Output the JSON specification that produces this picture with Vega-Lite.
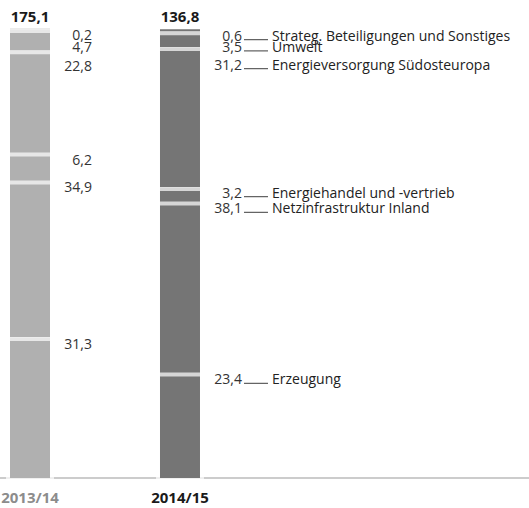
{
  "$schema": "https://vega.github.io/schema/vega-lite/v6.json",
  "width": 529,
  "height": 478,
  "autosize": {"type": "none"},
  "padding": {"left": 0, "right": 0, "top": 0, "bottom": 30},
  "config": {
    "view": {"stroke": null},
    "font": "Open Sans",
    "locale": {"number": {"decimal": ",", "thousands": ".", "grouping": [3], "currency": ["", " €"]}}
  },
  "datasets": {
    "segments": [
      {"year": "2013/14", "rank": 1, "cat": "Erzeugung", "value": 31.3},
      {"year": "2013/14", "rank": 2, "cat": "Netzinfrastruktur Inland", "value": 34.9},
      {"year": "2013/14", "rank": 3, "cat": "Energiehandel und -vertrieb", "value": 6.2},
      {"year": "2013/14", "rank": 4, "cat": "Energieversorgung Südosteuropa", "value": 22.8},
      {"year": "2013/14", "rank": 5, "cat": "Umwelt", "value": 4.7},
      {"year": "2013/14", "rank": 6, "cat": "Strateg. Beteiligungen und Sonstiges", "value": 0.2},
      {"year": "2014/15", "rank": 1, "cat": "Erzeugung", "value": 23.4},
      {"year": "2014/15", "rank": 2, "cat": "Netzinfrastruktur Inland", "value": 38.1},
      {"year": "2014/15", "rank": 3, "cat": "Energiehandel und -vertrieb", "value": 3.2},
      {"year": "2014/15", "rank": 4, "cat": "Energieversorgung Südosteuropa", "value": 31.2},
      {"year": "2014/15", "rank": 5, "cat": "Umwelt", "value": 3.5},
      {"year": "2014/15", "rank": 6, "cat": "Strateg. Beteiligungen und Sonstiges", "value": 0.6}
    ],
    "totals": [
      {"year": "2013/14", "total": 175.1},
      {"year": "2014/15", "total": 136.8}
    ]
  },
  "layer": [
    {
      "data": {"name": "totals"},
      "mark": {"type": "rule", "color": "#c8c8c8", "strokeWidth": 1.5},
      "encoding": {"y": {"datum": 0, "type": "quantitative", "axis": null}}
    },
    {
      "data": {"name": "totals"},
      "mark": {"type": "tick", "color": "white", "orient": "horizontal", "size": 48, "thickness": 4},
      "encoding": {
        "x": {"field": "year", "type": "nominal", "axis": null},
        "y": {"datum": 0, "type": "quantitative", "axis": null}
      }
    },
    {
      "data": {"name": "segments"},
      "transform": [
        {"stack": "value", "groupby": ["year"], "sort": [{"field": "rank", "order": "ascending"}], "as": ["y0", "y1"]}
      ],
      "layer": [
        {
          "mark": {"type": "bar"},
          "encoding": {
            "x": {
              "field": "year", "type": "nominal",
              "scale": {"type": "band", "domain": ["2013/14", "2014/15"], "range": [0, 210], "paddingInner": 0.7333, "paddingOuter": 0.0667},
              "axis": null
            },
            "y": {"field": "y0", "type": "quantitative", "scale": {"domain": [0, 106.5], "nice": false, "zero": true}, "axis": null},
            "y2": {"field": "y1"},
            "color": {"field": "year", "type": "nominal", "scale": {"domain": ["2013/14", "2014/15"], "range": ["#b0b0b0", "#757575"]}, "legend": null}
          }
        },
        {
          "transform": [{"filter": "datum.y0 > 0"}],
          "mark": {"type": "tick", "color": "white", "orient": "horizontal", "size": 46, "thickness": 4, "yOffset": 1.5},
          "encoding": {
            "x": {"field": "year", "type": "nominal", "axis": null},
            "y": {"field": "y0", "type": "quantitative", "axis": null}
          }
        },
        {
          "transform": [{"filter": "(datum.year == '2013/14' && (datum.rank <= 3 || datum.rank == 6)) || (datum.year == '2014/15' && (datum.rank <= 2 || datum.rank == 6))"}],
          "layer": [
            {
              "mark": {"type": "text", "align": "right", "baseline": "alphabetic", "dx": 62, "dy": 11.5, "fontSize": 14, "color": "#333333"},
              "encoding": {
                "x": {"field": "year", "type": "nominal", "axis": null},
                "y": {"field": "y1", "type": "quantitative", "axis": null},
                "text": {"field": "value", "type": "quantitative", "format": ".1f"}
              }
            },
            {
              "transform": [{"filter": "datum.year == '2014/15'"}],
              "mark": {"type": "tick", "orient": "horizontal", "color": "#222222", "size": 24, "thickness": 1.3, "xOffset": 76, "yOffset": 10.5},
              "encoding": {
                "x": {"field": "year", "type": "nominal", "axis": null},
                "y": {"field": "y1", "type": "quantitative", "axis": null}
              }
            },
            {
              "transform": [{"filter": "datum.year == '2014/15'"}],
              "mark": {"type": "text", "align": "left", "baseline": "alphabetic", "dx": 92, "dy": 11.5, "fontSize": 14, "color": "#222222"},
              "encoding": {
                "x": {"field": "year", "type": "nominal", "axis": null},
                "y": {"field": "y1", "type": "quantitative", "axis": null},
                "text": {"field": "cat", "type": "nominal"}
              }
            }
          ]
        },
        {
          "transform": [{"filter": "datum.year == '2014/15' && datum.rank == 3"}],
          "layer": [
            {
              "mark": {"type": "text", "align": "right", "baseline": "alphabetic", "dx": 62, "dy": 10, "fontSize": 14, "color": "#333333"},
              "encoding": {
                "x": {"field": "year", "type": "nominal", "axis": null},
                "y": {"field": "y1", "type": "quantitative", "axis": null},
                "text": {"field": "value", "type": "quantitative", "format": ".1f"}
              }
            },
            {
              "mark": {"type": "tick", "orient": "horizontal", "color": "#222222", "size": 24, "thickness": 1.3, "xOffset": 76, "yOffset": 9},
              "encoding": {
                "x": {"field": "year", "type": "nominal", "axis": null},
                "y": {"field": "y1", "type": "quantitative", "axis": null}
              }
            },
            {
              "mark": {"type": "text", "align": "left", "baseline": "alphabetic", "dx": 92, "dy": 10, "fontSize": 14, "color": "#222222"},
              "encoding": {
                "x": {"field": "year", "type": "nominal", "axis": null},
                "y": {"field": "y1", "type": "quantitative", "axis": null},
                "text": {"field": "cat", "type": "nominal"}
              }
            }
          ]
        },
        {
          "transform": [{"filter": "(datum.year == '2013/14' && datum.rank == 4) || (datum.year == '2014/15' && datum.rank == 5)"}],
          "layer": [
            {
              "mark": {"type": "text", "align": "right", "baseline": "alphabetic", "dx": 62, "dy": 20, "fontSize": 14, "color": "#333333"},
              "encoding": {
                "x": {"field": "year", "type": "nominal", "axis": null},
                "y": {"field": "y1", "type": "quantitative", "axis": null},
                "text": {"field": "value", "type": "quantitative", "format": ".1f"}
              }
            },
            {
              "transform": [{"filter": "datum.year == '2014/15'"}],
              "mark": {"type": "tick", "orient": "horizontal", "color": "#222222", "size": 24, "thickness": 1.3, "xOffset": 76, "yOffset": 19},
              "encoding": {
                "x": {"field": "year", "type": "nominal", "axis": null},
                "y": {"field": "y1", "type": "quantitative", "axis": null}
              }
            },
            {
              "transform": [{"filter": "datum.year == '2014/15'"}],
              "mark": {"type": "text", "align": "left", "baseline": "alphabetic", "dx": 92, "dy": 20, "fontSize": 14, "color": "#222222"},
              "encoding": {
                "x": {"field": "year", "type": "nominal", "axis": null},
                "y": {"field": "y1", "type": "quantitative", "axis": null},
                "text": {"field": "cat", "type": "nominal"}
              }
            }
          ]
        },
        {
          "transform": [{"filter": "(datum.year == '2013/14' && datum.rank == 5) || (datum.year == '2014/15' && datum.rank == 4)"}],
          "layer": [
            {
              "mark": {"type": "text", "align": "right", "baseline": "alphabetic", "dx": 62, "dy": 22, "fontSize": 14, "color": "#333333"},
              "encoding": {
                "x": {"field": "year", "type": "nominal", "axis": null},
                "y": {"field": "y1", "type": "quantitative", "axis": null},
                "text": {"field": "value", "type": "quantitative", "format": ".1f"}
              }
            },
            {
              "transform": [{"filter": "datum.year == '2014/15'"}],
              "mark": {"type": "tick", "orient": "horizontal", "color": "#222222", "size": 24, "thickness": 1.3, "xOffset": 76, "yOffset": 21},
              "encoding": {
                "x": {"field": "year", "type": "nominal", "axis": null},
                "y": {"field": "y1", "type": "quantitative", "axis": null}
              }
            },
            {
              "transform": [{"filter": "datum.year == '2014/15'"}],
              "mark": {"type": "text", "align": "left", "baseline": "alphabetic", "dx": 92, "dy": 22, "fontSize": 14, "color": "#222222"},
              "encoding": {
                "x": {"field": "year", "type": "nominal", "axis": null},
                "y": {"field": "y1", "type": "quantitative", "axis": null},
                "text": {"field": "cat", "type": "nominal"}
              }
            }
          ]
        }
      ]
    },
    {
      "data": {"name": "totals"},
      "mark": {"type": "text", "baseline": "alphabetic", "dy": -7.5, "fontSize": 15, "fontWeight": "bold", "color": "#1a1a1a"},
      "encoding": {
        "x": {"field": "year", "type": "nominal", "axis": null},
        "y": {"datum": 100, "type": "quantitative", "axis": null},
        "text": {"field": "total", "type": "quantitative", "format": ".1f"}
      }
    },
    {
      "data": {"name": "totals"},
      "mark": {"type": "text", "baseline": "alphabetic", "dy": 25, "fontSize": 15, "fontWeight": "bold"},
      "encoding": {
        "x": {"field": "year", "type": "nominal", "axis": null},
        "y": {"datum": 0, "type": "quantitative", "axis": null},
        "text": {"field": "year", "type": "nominal"},
        "color": {"condition": {"test": "datum.year == '2013/14'", "value": "#8c8c8c"}, "value": "#1a1a1a"}
      }
    }
  ]
}
